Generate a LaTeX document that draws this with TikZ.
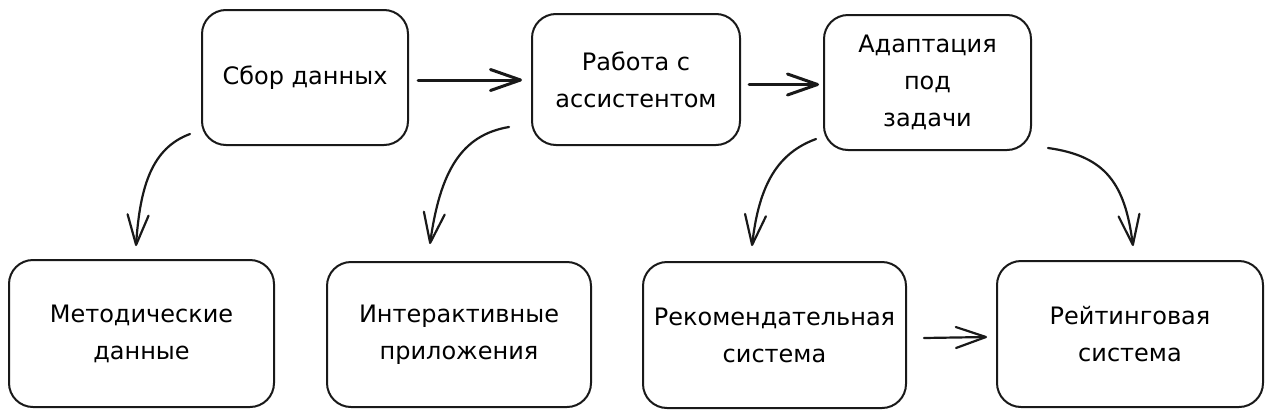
\documentclass[tikz,border=0pt]{standalone}
\usepackage{fontspec}
\setmainfont{DejaVu Sans}
\usetikzlibrary{arrows.meta}
\tikzset{
  box/.style={draw=black!90, line width=2pt, rounded corners=24pt, inner sep=0pt,
    align=center, font=\fontsize{24}{37}\selectfont},
  conn/.style={draw=black!90, line width=2.2pt, line cap=round,
    -{Straight Barb[length=30pt,width=21pt,round]}},
  thick conn/.style={conn, line width=3pt}
}
\begin{document}
\begin{tikzpicture}[x=1pt,y=-1pt]
\useasboundingbox (0,0) rectangle (1271,418);
\node[box, minimum width=206pt, minimum height=135pt] (b1) at (305,77.5) {Сбор данных};
\node[box, minimum width=208pt, minimum height=131pt] (b2) at (636,79.5) {Работа с\\ассистентом};
\node[box, minimum width=207pt, minimum height=135pt] (b3) at (927.5,82.5) {Адаптация\\под\\задачи};
\node[box, minimum width=265pt, minimum height=147pt] (b4) at (141.5,333.5) {Методические\\данные};
\node[box, minimum width=264pt, minimum height=145pt] (b5) at (459,334.5) {Интерактивные\\приложения};
\node[box, minimum width=263pt, minimum height=146pt] (b6) at (774.5,335) {Рекомендательная\\система};
\node[box, minimum width=266pt, minimum height=146pt] (b7) at (1130,334) {Рейтинговая\\система};

\draw[thick conn] ([shift={(9,2.5)}]b1.east) -- ([shift={(-9,0.5)}]b2.west);
\draw[thick conn] ([shift={(8,5)}]b2.east) -- ([shift={(-4,2)}]b3.west);
\draw[conn] ([shift={(17,3)}]b6.east) -- ([shift={(-9,3)}]b7.west);

\draw[conn] ([shift={(-11,-12)}]b1.south west) .. controls +(-38,14) and +(4,-60) .. ([shift={(-5.5,-13)}]b4.north);
\draw[conn] ([shift={(-22,-19)}]b2.south west) .. controls +(-48,8) and +(10,-72) .. ([shift={(-29,-17)}]b5.north);
\draw[conn] ([shift={(-7,-12)}]b3.south west) .. controls +(-38,14) and +(7,-62) .. ([shift={(-22.5,-15)}]b6.north);
\draw[conn] ([shift={(16,-3)}]b3.south east) .. controls +(58,8) and +(-8,-62) .. ([shift={(3,-14)}]b7.north);
\end{tikzpicture}
\end{document}
